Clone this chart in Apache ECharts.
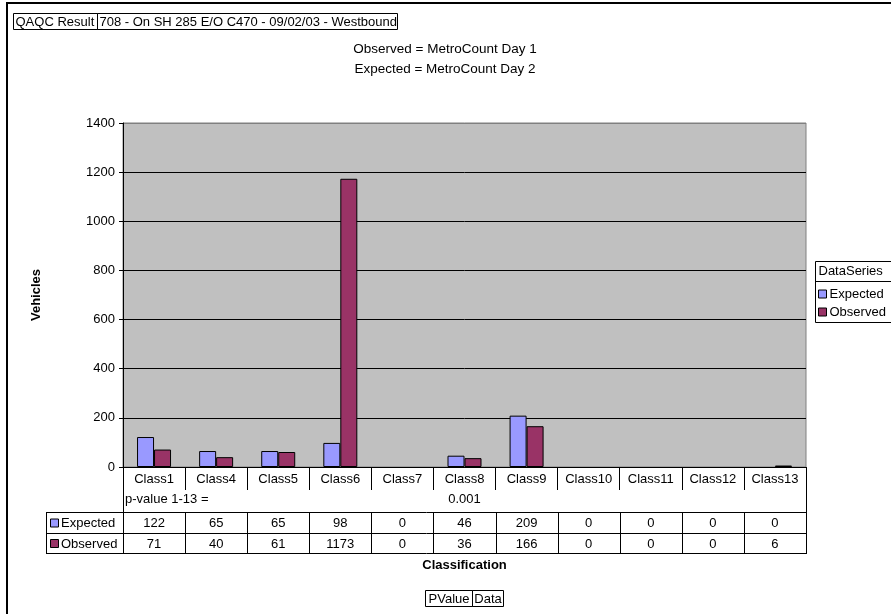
<!DOCTYPE html>
<html>
<head>
<meta charset="utf-8">
<title>QAQC Result</title>
<script src="https://cdn.jsdelivr.net/npm/echarts@6/dist/echarts.min.js"></script>
<style>
  html, body { margin: 0; padding: 0; background: #fff; }
  #chart { width: 891px; height: 614px; }
</style>
</head>
<body>
<div id="chart"></div>
<script>
// Vehicle classification counts for site 708, two MetroCount days
const categories = ['Class1', 'Class4', 'Class5', 'Class6', 'Class7', 'Class8', 'Class9', 'Class10', 'Class11', 'Class12', 'Class13'];
const expected = [122, 65, 65, 98, 0, 46, 209, 0, 0, 0, 0];
const observed = [71, 40, 61, 1173, 0, 36, 166, 0, 0, 0, 6];
const seriesNames = ['Expected', 'Observed'];
const pValueLabel = 'p-value 1-13 =';
const pValue = '0.001';
const pValueColumn = 'Class8';
const yTicks = { min: 0, max: 1400, step: 200 };
const titleLines = ['Observed = MetroCount Day 1', 'Expected = MetroCount Day 2'];
const headerCells = ['QAQC Result', '708 - On SH 285 E/O C470 - 09/02/03 - Westbound'];
const footerCells = ['PValue', 'Data'];

const FONT = '"Liberation Sans", Arial, sans-serif';
const COLORS = ['#9999FF', '#993366'];
const FS = 13;

const chart = echarts.init(document.getElementById('chart'), null, { renderer: 'canvas' });

const G = { left: 123, top: 123, right: 891 - 806, bottom: 614 - 467 };

// zero counts get no outline, so empty classes show no bar at all
const barData = vals => vals.map(v => v === 0 ? { value: v, itemStyle: { borderWidth: 0 } } : v);

chart.setOption({
  animation: false,
  backgroundColor: '#ffffff',
  textStyle: { fontFamily: FONT },
  grid: {
    left: G.left, top: G.top, right: G.right, bottom: G.bottom,
    show: true, backgroundColor: '#C0C0C0', borderColor: '#808080', borderWidth: 1
  },
  xAxis: {
    type: 'category',
    data: categories,
    axisLine: { show: true, lineStyle: { color: '#000', width: 1 } },
    axisTick: { show: true, length: 23, inside: false, lineStyle: { color: '#000' } },
    axisLabel: { color: '#000', fontSize: FS, fontFamily: FONT, margin: 6, interval: 0 },
    splitLine: { show: false }
  },
  yAxis: {
    type: 'value',
    min: yTicks.min, max: yTicks.max, interval: yTicks.step,
    axisLine: { show: true, lineStyle: { color: '#000' } },
    axisTick: { show: true, length: 4, lineStyle: { color: '#000' } },
    axisLabel: { color: '#000', fontSize: FS, fontFamily: FONT, margin: 8, formatter: v => String(v) },
    splitLine: { show: true, lineStyle: { color: '#000', width: 1 } },
    name: 'Vehicles',
    nameLocation: 'middle',
    nameGap: 80,
    nameRotate: 90,
    nameTextStyle: { color: '#000', fontSize: FS, fontWeight: 'bold', fontFamily: FONT }
  },
  series: [
    {
      name: seriesNames[0], type: 'bar', data: barData(expected), barWidth: 17, barGap: '0%',
      itemStyle: { color: COLORS[0], borderColor: '#000', borderWidth: 1 }
    },
    {
      name: seriesNames[1], type: 'bar', data: barData(observed), barWidth: 17, barGap: '0%',
      itemStyle: { color: COLORS[1], borderColor: '#000', borderWidth: 1 }
    }
  ]
});

// Data table, legend, header and footer boxes drawn around the plot
function buildGraphics() {
  const els = [];
  const line = (x1, y1, x2, y2, w, c) => els.push({
    type: 'line', silent: true,
    shape: { x1, y1, x2, y2 },
    style: { stroke: c || '#000', lineWidth: w || 1 }
  });
  const text = (x, y, t, opts) => els.push({
    type: 'text', silent: true, x, y,
    style: Object.assign({
      text: t, fill: '#000', font: FS + 'px ' + FONT,
      align: 'center', verticalAlign: 'middle'
    }, opts || {})
  });
  const box = (x, y, w, h, fill) => els.push({
    type: 'rect', silent: true,
    shape: { x, y, width: w, height: h },
    style: { fill: fill || 'none', stroke: '#000', lineWidth: 1 }
  });

  const x0 = chart.convertToPixel({ gridIndex: 0 }, [0, 0])[0];
  const x1 = chart.convertToPixel({ gridIndex: 0 }, [1, 0])[0];
  const step = x1 - x0;
  const left = x0 - step / 2;
  const right = left + step * categories.length;
  const yAxis0 = chart.convertToPixel({ yAxisIndex: 0 }, 0);
  const yAxisTop = chart.convertToPixel({ yAxisIndex: 0 }, yTicks.max);

  const rowTop = 512, rowMid = 533, rowBot = 553, headLeft = 46;

  // outer frame
  els.push({
    type: 'rect', silent: true,
    shape: { x: 7, y: 3, width: 900, height: 640 },
    style: { fill: 'none', stroke: '#000', lineWidth: 2 }
  });

  // plot-area top edge in the border grey
  line(left + 1, Math.round(yAxisTop) + 0.5, right, Math.round(yAxisTop) + 0.5, 1, '#808080');

  // table frame
  line(left + 0.5, yAxis0, left + 0.5, rowBot);
  line(right + 0.5, yAxis0, right + 0.5, rowBot);
  line(headLeft, rowTop + 0.5, right + 1, rowTop + 0.5);
  line(headLeft, rowMid + 0.5, right + 1, rowMid + 0.5);
  line(headLeft, rowBot + 0.5, right + 1, rowBot + 0.5);
  line(headLeft + 0.5, rowTop, headLeft + 0.5, rowBot);
  for (let i = 1; i < categories.length; i++) {
    const bx = Math.round(left + step * i) + 0.5;
    line(bx, rowTop, bx, rowBot);
  }

  // p-value row
  text(left + 2, 499, pValueLabel, { align: 'left' });
  const pIdx = categories.indexOf(pValueColumn);
  text(chart.convertToPixel({ gridIndex: 0 }, [pIdx, 0])[0], 499, pValue);

  // value rows
  const rows = [expected, observed];
  const rowCenters = [(rowTop + rowMid) / 2 + 1, (rowMid + rowBot) / 2 + 1];
  rows.forEach((vals, r) => {
    box(headLeft + 4.5, rowCenters[r] - 4.5, 8, 8, COLORS[r]);
    text(headLeft + 15, rowCenters[r], seriesNames[r], { align: 'left' });
    vals.forEach((v, i) => {
      const cx = chart.convertToPixel({ gridIndex: 0 }, [i, 0])[0];
      text(cx, rowCenters[r], String(v));
    });
  });

  // axis title under table
  text((left + right) / 2, 565, 'Classification', { font: 'bold ' + FS + 'px ' + FONT });

  // legend
  const lgX = 815.5, lgTop = 261.5;
  els.push({
    type: 'rect', silent: true,
    shape: { x: lgX, y: lgTop, width: 100, height: 61 },
    style: { fill: '#fff', stroke: '#000', lineWidth: 1 }
  });
  line(lgX, lgTop + 20, lgX + 100, lgTop + 20);
  text(lgX + 3, lgTop + 10, 'DataSeries', { align: 'left' });
  seriesNames.forEach((n, r) => {
    const cy = lgTop + 33 + r * 18;
    box(lgX + 3, cy - 4.5, 8, 8, COLORS[r]);
    text(lgX + 14, cy, n, { align: 'left' });
  });

  // header cells
  let hx = 13.5;
  headerCells.forEach((c, i) => {
    const w = i === 0 ? 84 : 300;
    box(hx, 13.5, w, 16);
    text(hx + 2, 22, c, { align: 'left' });
    hx += w;
  });

  // titles
  titleLines.forEach((t, i) => text(445, 49 + i * 20, t, { font: '13.5px ' + FONT }));

  // footer cells
  let fx = 425.5;
  footerCells.forEach((c, i) => {
    const w = i === 0 ? 47 : 31;
    box(fx, 590.5, w, 16);
    text(fx + w / 2, 599, c);
    fx += w;
  });

  chart.setOption({ graphic: { elements: els } });
}
buildGraphics();
</script>
</body>
</html>
